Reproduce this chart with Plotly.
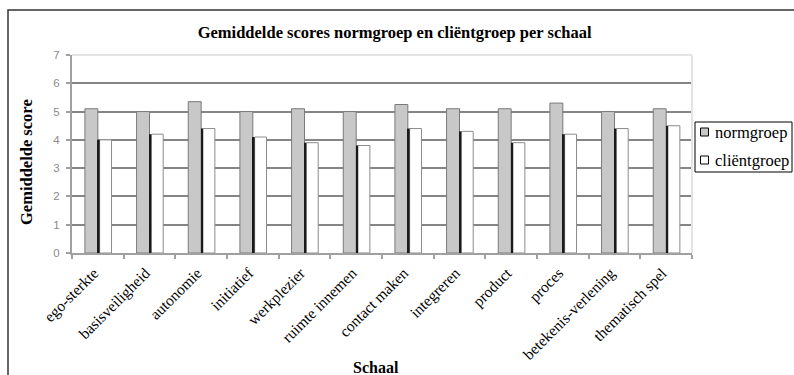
import plotly.graph_objects as go

# Scales and mean scores per group
schalen = ["ego-sterkte", "basisveiligheid", "autonomie", "initiatief", "werkplezier",
           "ruimte innemen", "contact maken", "integreren", "product", "proces",
           "betekenis-verlening", "thematisch spel"]
normgroep = [5.1, 5.0, 5.35, 5.0, 5.1, 5.0, 5.25, 5.1, 5.1, 5.3, 5.0, 5.1]
clientgroep = [4.0, 4.2, 4.4, 4.1, 3.9, 3.8, 4.4, 4.3, 3.9, 4.2, 4.4, 4.5]
y_ticks = [0, 1, 2, 3, 4, 5, 6, 7]
series_names = ["normgroep", "cliëntgroep"]
series_colors = ["#c8c8c8", "#ffffff"]

SERIF = "Liberation Serif, Times New Roman, serif"

fig = go.Figure()

fig.add_trace(go.Bar(
    x=schalen, y=normgroep, name=series_names[0],
    width=0.25, offset=-0.25,
    marker=dict(color=series_colors[0], line=dict(color="#7a7a7a", width=1)),
))
fig.add_trace(go.Bar(
    x=schalen, y=clientgroep, name=series_names[1],
    width=0.23, offset=0.035,
    marker=dict(color=series_colors[1], line=dict(color="#8c8c8c", width=1)),
))
# dark side face of the white bars (3D look)
fig.add_trace(go.Bar(
    x=schalen, y=clientgroep, showlegend=False, hoverinfo="skip",
    width=0.035, offset=0.0,
    marker=dict(color="#1a1a1a", line=dict(width=0)),
))

W, H = 794, 375
L, R, T, B = 72, 102, 55, 122
pw, ph = W - L - R, H - T - B


def px_x(x):
    return (x - L) / pw


def px_y(y):
    return (H - B - y) / ph


fig.update_layout(
    width=W, height=H,
    margin=dict(l=L, r=R, t=T, b=B, autoexpand=False),
    paper_bgcolor="white", plot_bgcolor="white",
    barmode="overlay",
    font=dict(family=SERIF, color="black"),
    title=dict(
        text="<b>Gemiddelde scores normgroep en cliëntgroep per schaal</b>",
        x=0.497, xanchor="center", y=1 - 32 / H, yanchor="middle",
        font=dict(size=16.5, family=SERIF, color="black"),
    ),
    showlegend=False,
)

fig.update_xaxes(
    type="category", range=[-0.5, 11.5],
    showgrid=False, showline=True, linecolor="#a0a0a0", linewidth=2,
    ticks="outside", tickson="boundaries", ticklen=4, tickwidth=2, tickcolor="#a0a0a0",
    tickangle=-45, tickfont=dict(size=15.5, family=SERIF, color="black"),
    ticklabelstandoff=3, ticklabelshift=-4,
)
fig.update_yaxes(
    range=[0, 7], tickvals=y_ticks,
    showgrid=True, gridcolor="#858585", gridwidth=2,
    zeroline=False,
    showline=True, linecolor="#a0a0a0", linewidth=2,
    ticks="outside", ticklen=4, tickwidth=2, tickcolor="#a0a0a0",
    tickfont=dict(size=11.5, family="Liberation Sans, Arial, sans-serif", color="#8a8a8a"),
    ticklabelstandoff=4,
)

# light back-wall edges at the top and right of the plot
fig.add_shape(type="line", xref="x domain", yref="y domain", x0=0, x1=1, y0=1, y1=1,
              line=dict(color="#e4e4e4", width=2), layer="above")
fig.add_shape(type="line", xref="x domain", yref="y domain", x0=1, x1=1, y0=0, y1=1,
              line=dict(color="#e4e4e4", width=2), layer="above")

# chart area frame
fig.add_shape(type="rect", xref="paper", yref="paper",
              x0=px_x(8), x1=px_x(805), y0=px_y(385), y1=px_y(10),
              line=dict(color="#333333", width=1.5), fillcolor="rgba(0,0,0,0)", layer="below")

# legend box with one swatch + label per series
fig.add_shape(type="rect", xref="paper", yref="paper",
              x0=px_x(695), x1=px_x(792), y0=px_y(172), y1=px_y(122),
              line=dict(color="black", width=1), fillcolor="white", layer="above")
for i, (name, col) in enumerate(zip(series_names, series_colors)):
    cy = 132 + i * 28
    fig.add_shape(type="rect", xref="paper", yref="paper",
                  x0=px_x(700.5), x1=px_x(708.5), y0=px_y(cy + 4), y1=px_y(cy - 4),
                  line=dict(color="black", width=1), fillcolor=col, layer="above")
    fig.add_annotation(text=name, xref="paper", yref="paper",
                       x=px_x(713), y=px_y(cy), showarrow=False,
                       xanchor="left", yanchor="middle",
                       font=dict(size=16.5, family=SERIF, color="black"))

# axis titles
fig.add_annotation(text="<b>Gemiddelde score</b>", xref="paper", yref="paper",
                   x=px_x(26), y=px_y(162), textangle=-90, showarrow=False,
                   xanchor="center", yanchor="middle",
                   font=dict(size=16.5, family=SERIF, color="black"))
fig.add_annotation(text="<b>Schaal</b>", xref="paper", yref="paper",
                   x=px_x(376), y=px_y(367), showarrow=False,
                   xanchor="center", yanchor="middle",
                   font=dict(size=16, family=SERIF, color="black"))

fig.write_html("out.html")
